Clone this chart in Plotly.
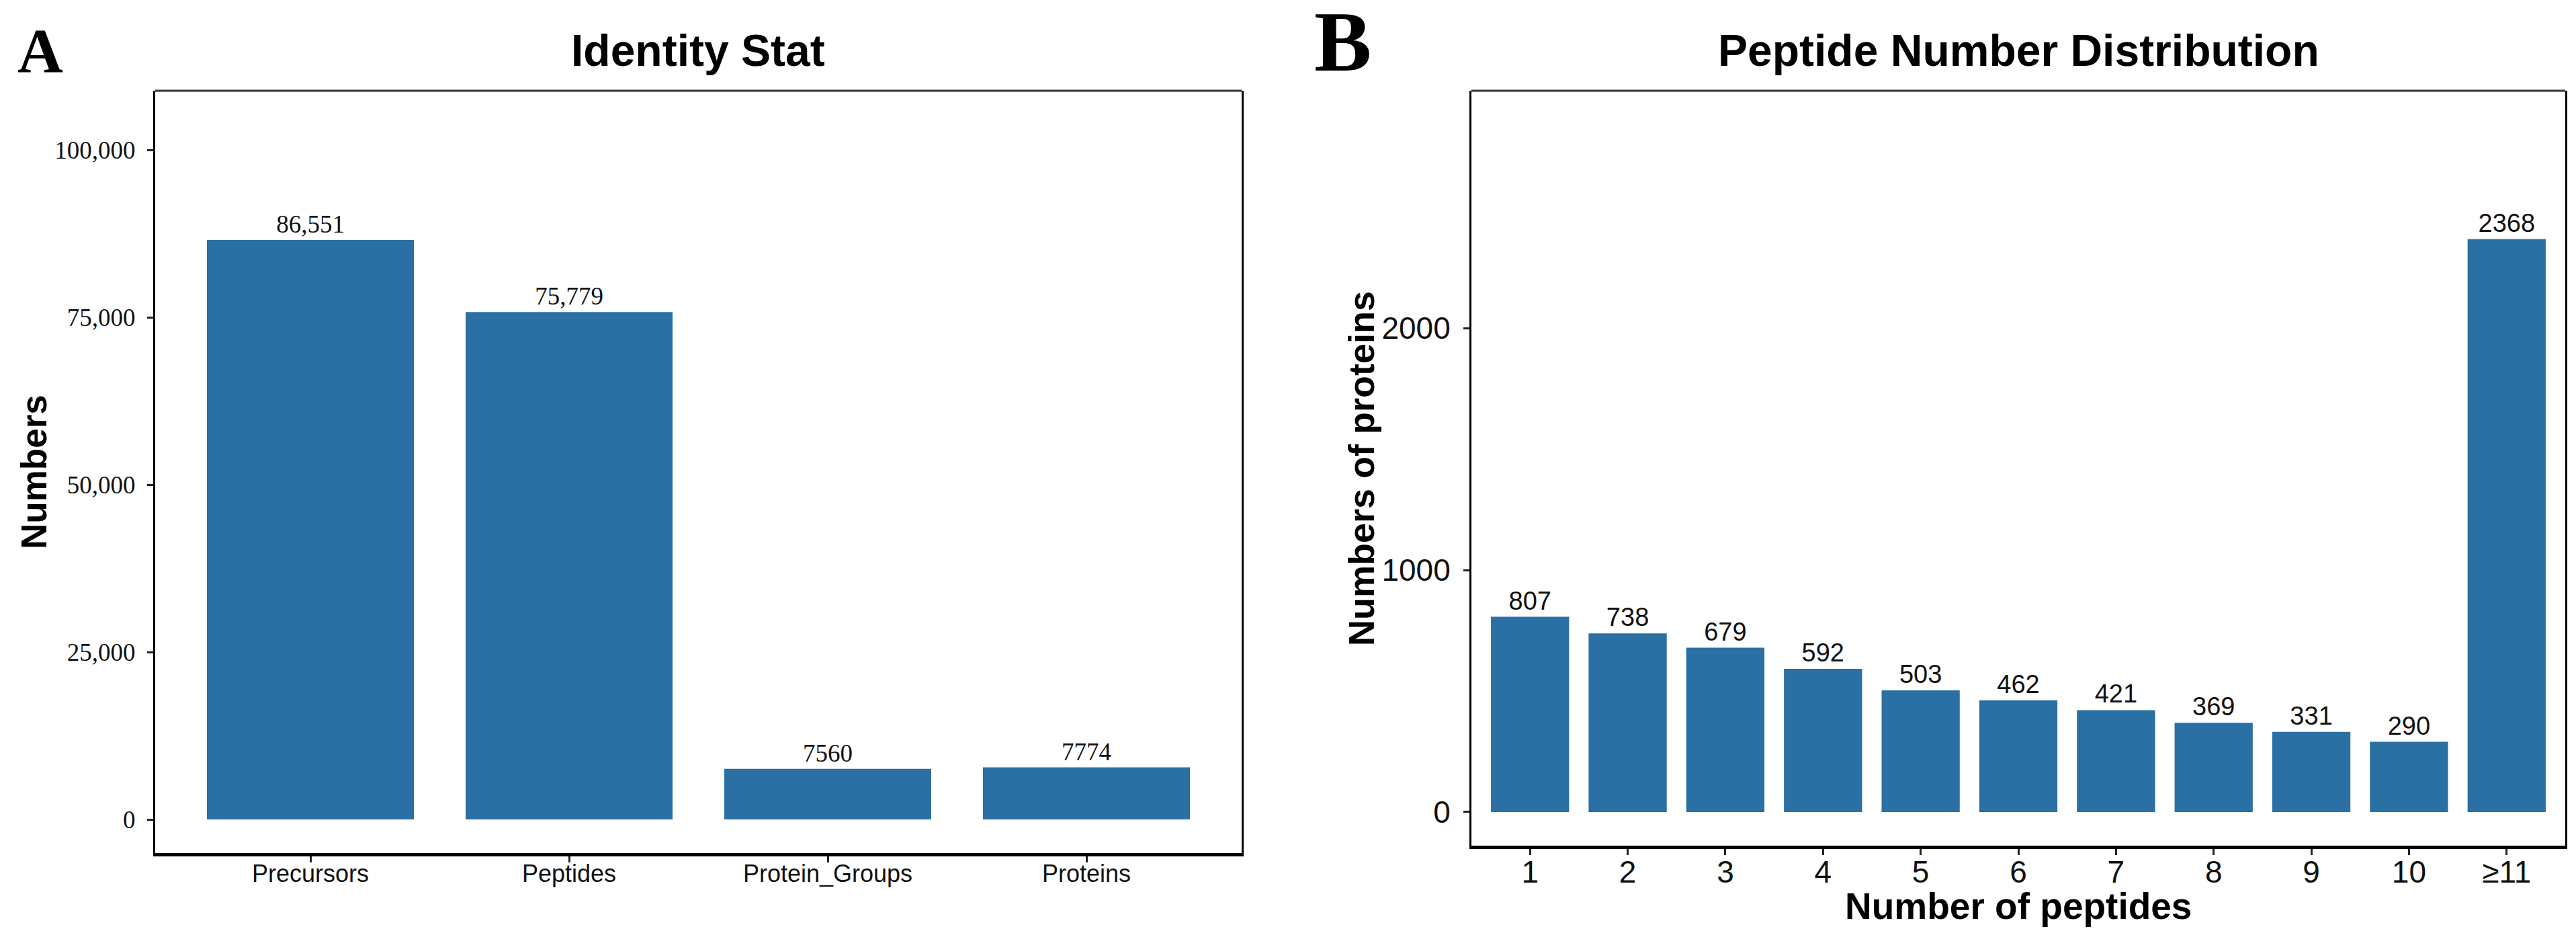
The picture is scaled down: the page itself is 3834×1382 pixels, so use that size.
import plotly.graph_objects as go
from plotly.subplots import make_subplots

# --- datos ---
identity_cats = ["Precursors", "Peptides", "Protein_Groups", "Proteins"]
identity_vals = [86551, 75779, 7560, 7774]

pep_cats = ["1", "2", "3", "4", "5", "6", "7", "8", "9", "10", "≥11"]
pep_vals = [807, 738, 679, 592, 503, 462, 421, 369, 331, 290, 2368]

left_ticks = [0, 25000, 50000, 75000, 100000]
right_ticks = [0, 1000, 2000]

BAR = "#2A70A4"
W, H = 3834, 1382
SANS = "Liberation Sans"
SERIF = "Liberation Serif"


def etiqueta(v):
    # los valores grandes llevan separador de miles, los pequeños no
    return f"{v:,}" if v >= 10000 else str(v)


fig = make_subplots(rows=1, cols=2)

fig.add_trace(go.Bar(
    x=identity_cats, y=identity_vals,
    marker=dict(color=BAR, line=dict(width=0)),
    text=[etiqueta(v) for v in identity_vals],
    textposition="outside", cliponaxis=False,
    textfont=dict(family=SERIF, size=37, color="#111111"),
    showlegend=False,
), row=1, col=1)

fig.add_trace(go.Bar(
    x=pep_cats, y=pep_vals,
    marker=dict(color=BAR, line=dict(width=0)),
    text=[str(v) for v in pep_vals],
    textposition="outside", cliponaxis=False,
    textfont=dict(family=SANS, size=38, color="#111111"),
    showlegend=False,
), row=1, col=2)

# --- ejes ---
ejes_comunes = dict(showgrid=False, zeroline=False, ticks="outside",
                    ticklen=9, tickwidth=3, tickcolor="#222222")

fig.update_xaxes(domain=[223 / W, 1840 / W], type="category", range=[-0.6, 3.6],
                 showline=True, linecolor="black", linewidth=5,
                 tickfont=dict(family=SANS, size=36, color="#111111"),
                 ticklabelstandoff=-14, **ejes_comunes, row=1, col=1)
fig.update_yaxes(domain=[1 - 1261 / H, 1 - 127 / H], range=[-5020, 108835],
                 tickvals=left_ticks, tickformat=",d",
                 showline=True, mirror=True, linecolor="black", linewidth=3,
                 tickfont=dict(family=SERIF, size=37, color="#111111"),
                 ticklabelstandoff=10, **ejes_comunes, row=1, col=1)

fig.update_xaxes(domain=[2182 / W, 3810 / W], type="category", range=[-0.6, 10.6],
                 showline=True, linecolor="black", linewidth=5,
                 tickfont=dict(family=SANS, size=46, color="#111111"),
                 ticklabelstandoff=-14, **ejes_comunes, row=1, col=2)
fig.update_yaxes(domain=[1 - 1250 / H, 1 - 127 / H], range=[-139, 2981],
                 tickvals=right_ticks,
                 showline=True, mirror=True, linecolor="black", linewidth=3,
                 tickfont=dict(family=SANS, size=46, color="#111111"),
                 ticklabelstandoff=10, **ejes_comunes, row=1, col=2)

# borde superior de cada panel
for xr, yr in (("x", "y"), ("x2", "y2")):
    fig.add_shape(type="line", xref=f"{xr} domain", yref=f"{yr} domain",
                  x0=0, x1=1, y0=1, y1=1, line=dict(color="#333333", width=3))

# --- textos ---
def nota(texto, x, y, size, family=SANS, bold=True, angle=0, xanchor="center"):
    fig.add_annotation(
        text=f"<b>{texto}</b>" if bold else texto,
        xref="paper", yref="paper", x=x / W, y=1 - y / H,
        xanchor=xanchor, yanchor="middle", showarrow=False, textangle=angle,
        font=dict(family=family, size=size, color="black"),
    )

nota("Identity Stat", 1031, 67, 66)
nota("Peptide Number Distribution", 2996, 67, 66)
nota("Numbers", 43, 694, 53, angle=-90)
nota("Numbers of proteins", 2018, 689, 54, angle=-90)
nota("Number of peptides", 2996, 1340, 55)
nota("A", 16, 67, 94, family=SERIF, xanchor="left")
nota("B", 1946, 54, 128, family=SERIF, xanchor="left")

fig.update_layout(
    width=W, height=H, autosize=False,
    margin=dict(l=0, r=0, t=0, b=0),
    paper_bgcolor="white", plot_bgcolor="white",
    bargap=0.2, showlegend=False,
    uniformtext=dict(mode=False),
)

fig.write_html("out.html")
